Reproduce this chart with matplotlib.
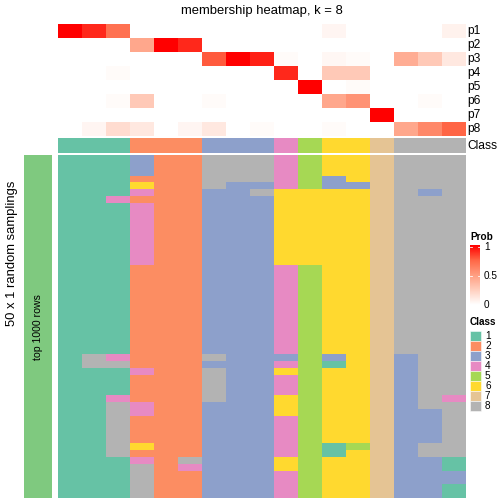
import numpy as np
import matplotlib
matplotlib.use("Agg")
import matplotlib.pyplot as plt
from matplotlib.colors import ListedColormap, LinearSegmentedColormap
from matplotlib.patches import Rectangle

plt.rcParams['font.family'] = ['Liberation Sans', 'DejaVu Sans']

#%% Datos
prob_labels = ['p1', 'p2', 'p3', 'p4', 'p5', 'p6', 'p7', 'p8']
p1 = [1.0, 0.9, 0.7, 0, 0, 0, 0, 0, 0, 0, 0, 0.05, 0, 0, 0, 0, 0.07]
p2 = [0, 0, 0, 0.45, 1.0, 0.9, 0, 0, 0, 0, 0, 0, 0, 0, 0, 0, 0]
p3 = [0, 0, 0, 0, 0, 0, 0.78, 1.0, 0.92, 0.02, 0, 0.04, 0.02, 0, 0.42, 0.28, 0.12]
p4 = [0, 0, 0.02, 0, 0, 0, 0, 0, 0, 0.9, 0, 0.28, 0.28, 0, 0, 0, 0]
p5 = [0, 0, 0, 0, 0, 0, 0, 0, 0, 0, 1.0, 0, 0.02, 0, 0, 0, 0]
p6 = [0, 0, 0.02, 0.28, 0, 0, 0.02, 0, 0, 0, 0, 0.45, 0.55, 0, 0, 0.02, 0]
p7 = [0, 0, 0, 0, 0, 0, 0, 0, 0, 0, 0, 0, 0, 1.0, 0, 0, 0]
p8 = [0, 0.05, 0.18, 0.12, 0, 0.05, 0.12, 0, 0.02, 0, 0, 0.02, 0, 0, 0.45, 0.6, 0.75]

clase = [1, 1, 1, 2, 2, 2, 3, 3, 3, 4, 5, 6, 6, 7, 8, 8, 8]

# una fila por muestreo (50), una cifra por columna (17)
muestreos = [
    "11132288845667888", "11132288845667888", "11132288845667888",
    "11122288845367888", "11162283345337888", "11142233866667838",
    "11422233366667888",
    "11142233366667888", "11142233366667888", "11142233366667888",
    "11142233366667888", "11142233366667888", "11142233366667888",
    "11142233366667888", "11142233366667888", "11142233366667888",
    "11122233345667888", "11122233345667888", "11122233345667888",
    "11122233345667888", "11122233345667888", "11122233345667888",
    "11122233345667888", "11122233345667888", "11122233345667888",
    "11122233345667888", "11122233345667888", "11122233345667888",
    "11122233345667888",
    "18422283335367388", "18822233345167388", "11142283365667388",
    "11122283345667388", "11122283345667388", "11122283345667388",
    "11422283365667384", "11842233365667388", "11842233365667338",
    "11822233345667338", "11822233345667338", "11822233345667338",
    "11822233345667338", "11862233345157388", "11822233345167388",
    "11142833365667331", "11182433365667331", "11182233345667333",
    "11182233345667333", "11182233345667331", "11182233345667331",
]

clases_leyenda = ['1', '2', '3', '4', '5', '6', '7', '8']
colores_clase = ['#66C2A5', '#FC8D62', '#8DA0CB', '#E78AC3',
                 '#A6D854', '#FFD92F', '#E5C494', '#B3B3B3']

#%% Matrices
P = np.array([p1, p2, p3, p4, p5, p6, p7, p8])
M = np.array([[int(ch) for ch in fila] for fila in muestreos])
C = np.array([clase])

cmap_prob = LinearSegmentedColormap.from_list(
    'prob', ['#FFFFFF', '#FFCFBE', '#FF9E81', '#FF6746', '#FF0000'])
cmap_clase = ListedColormap(colores_clase)

#%% Figura (coordenadas en pixeles)
W = H = 504
fig = plt.figure(figsize=(7, 7), dpi=72)


def ejes(x0, y0, x1, y1):
    ax = fig.add_axes([x0 / W, 1 - y1 / H, (x1 - x0) / W, (y1 - y0) / H])
    ax.set_axis_off()
    return ax


ax_p = ejes(58, 24, 466, 136)
ax_p.imshow(P, cmap=cmap_prob, vmin=0, vmax=1, aspect='auto', interpolation='nearest')

ax_c = ejes(58, 138, 466, 153)
ax_c.imshow(C, cmap=cmap_clase, vmin=0.5, vmax=8.5, aspect='auto', interpolation='nearest')

ax_m = ejes(58, 155, 466, 498)
ax_m.imshow(M, cmap=cmap_clase, vmin=0.5, vmax=8.5, aspect='auto', interpolation='nearest')

ax_l = ejes(24, 155, 52, 498)
ax_l.imshow([[0]], cmap=ListedColormap(['#7FC97F']), aspect='auto')

# capa de textos
ax_t = fig.add_axes([0, 0, 1, 1])
ax_t.set_xlim(0, W)
ax_t.set_ylim(H, 0)
ax_t.set_axis_off()
ax_t.patch.set_alpha(0)

ax_t.text(262, 11, 'membership heatmap, k = 8', ha='center', va='center', fontsize=13)

for i, lab in enumerate(prob_labels):
    ax_t.text(467, 31 + 14 * i, lab, ha='left', va='center', fontsize=12)
ax_t.text(467, 146, 'Class', ha='left', va='center', fontsize=12)

ax_t.text(12, 253, '50 x 1 random samplings', rotation=90, ha='center', va='center', fontsize=13)
ax_t.text(38, 327, 'top 1000 rows', rotation=90, ha='center', va='center', fontsize=10.5)

# leyenda Prob
ax_t.text(470, 237, 'Prob', ha='left', va='center', fontsize=10, fontweight='bold')
grad = np.linspace(1, 0, 100).reshape(-1, 1)
ax_t.imshow(grad, cmap=cmap_prob, vmin=0, vmax=1, aspect='auto',
            extent=(470, 480, 305, 245), interpolation='bilinear')
for v in [1, 0.5, 0]:
    yv = 305 - v * 58
    ax_t.plot([470, 472], [yv, yv], color='white', lw=0.8)
    ax_t.plot([478, 480], [yv, yv], color='white', lw=0.8)
    ax_t.text(484, yv, f'{v:g}', ha='left', va='center', fontsize=10)

# leyenda Class
ax_t.text(470, 322, 'Class', ha='left', va='center', fontsize=10, fontweight='bold')
for i, (lab, col) in enumerate(zip(clases_leyenda, colores_clase)):
    ax_t.add_patch(Rectangle((470, 331 + 10 * i), 11, 9.5, facecolor=col, edgecolor='white', lw=0.5))
    ax_t.text(485, 336 + 10 * i, lab, ha='left', va='center', fontsize=10)

ax_t.set_xlim(0, W)
ax_t.set_ylim(H, 0)

fig.savefig('out.png', dpi=72)
